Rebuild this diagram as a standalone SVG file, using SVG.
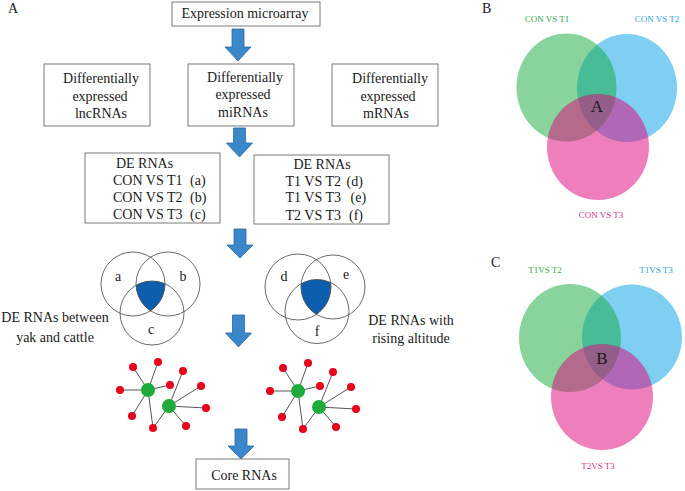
<svg xmlns="http://www.w3.org/2000/svg" xmlns:xlink="http://www.w3.org/1999/xlink" width="685" height="491" viewBox="0 0 685 491">
<style>
text{font-family:"Liberation Serif","Times New Roman",serif;fill:#1a1a1a}
.t{font-size:14px}
.c{text-anchor:middle}
.box{fill:#fff;stroke:#7a7a7a;stroke-width:1}
.arrow{fill:#3a87c9;stroke:#2a68a6;stroke-width:0.8}
.vc{fill:none;stroke:#444;stroke-width:0.8}
.edge{stroke:#555;stroke-width:1}
.red{fill:#e8001c}
.grn{fill:#1faa3c}
.lab{font-size:9px;text-anchor:middle}
.big{font-size:17px;text-anchor:middle}
</style>
<defs>
<g id="net">
<g class="edge">
<line x1="148" y1="390" x2="133" y2="367"/>
<line x1="148" y1="390" x2="158" y2="362"/>
<line x1="148" y1="390" x2="120" y2="390"/>
<line x1="148" y1="390" x2="170" y2="385"/>
<line x1="148" y1="390" x2="132" y2="416"/>
<line x1="148" y1="390" x2="153" y2="428"/>
<line x1="169" y1="406" x2="183" y2="371"/>
<line x1="169" y1="406" x2="201" y2="386"/>
<line x1="169" y1="406" x2="206" y2="408"/>
<line x1="169" y1="406" x2="186" y2="426"/>
<line x1="169" y1="406" x2="153" y2="428"/>
</g>
<g class="red">
<circle cx="133" cy="367" r="4"/><circle cx="158" cy="362" r="4"/><circle cx="183" cy="371" r="4"/>
<circle cx="170" cy="385" r="4"/><circle cx="201" cy="386" r="4"/><circle cx="120" cy="390" r="4"/>
<circle cx="206" cy="408" r="4"/><circle cx="132" cy="416" r="4"/><circle cx="153" cy="428" r="4"/>
<circle cx="186" cy="426" r="4"/>
</g>
<g class="grn"><circle cx="148" cy="390" r="7"/><circle cx="169" cy="406" r="7"/></g>
</g>
<clipPath id="ca"><circle cx="133" cy="284" r="32"/></clipPath>
<clipPath id="cb"><circle cx="168" cy="284" r="32"/></clipPath>
<clipPath id="cd"><circle cx="298" cy="287" r="33"/></clipPath>
<clipPath id="ce"><circle cx="333" cy="287" r="32"/></clipPath>
</defs>

<text x="8" y="13" class="t">A</text>
<text x="482" y="13" class="t">B</text>
<text x="491" y="267" class="t">C</text>

<g id="connectors">
<path class="arrow" d="M232 29 H244 V47 H251 L238 61 L225 47 H232 Z"/>
<path class="arrow" d="M233.5 128 H245.5 V143 H252.5 L239.5 157 L226.5 143 H233.5 Z"/>
<path class="arrow" d="M234 229 H246 V245 H253 L240 258 L227 245 H234 Z"/>
<path class="arrow" d="M232.5 315 H244.5 V333 H251.5 L238.5 347 L225.5 333 H232.5 Z"/>
<path class="arrow" d="M235 429 H247 V446 H254 L241 459 L228 446 H235 Z"/>
</g>

<g id="microarray">
<rect class="box" x="172" y="2" width="148" height="24"/>
<text x="245" y="17.5" class="t c">Expression microarray</text>
</g>
<g id="lnc">
<rect class="box" x="44" y="64" width="106" height="62"/>
<text x="101" y="83" class="t c">Differentially</text>
<text x="100" y="100.5" class="t c">expressed</text>
<text x="101" y="118" class="t c">lncRNAs</text>
</g>
<g id="mirna">
<rect class="box" x="188" y="64" width="106" height="62"/>
<text x="245" y="81.5" class="t c">Differentially</text>
<text x="243" y="99" class="t c">expressed</text>
<text x="243" y="116.5" class="t c">miRNAs</text>
</g>
<g id="mrna">
<rect class="box" x="332" y="64" width="106" height="62"/>
<text x="390" y="83" class="t c">Differentially</text>
<text x="388" y="100.5" class="t c">expressed</text>
<text x="386" y="118" class="t c">mRNAs</text>
</g>
<g id="de1">
<rect class="box" x="85" y="153" width="135" height="70"/>
<text x="144.5" y="168" class="t c">DE RNAs</text>
<text x="113" y="185" class="t">CON VS T1<tspan x="190">(a)</tspan></text>
<text x="113" y="202" class="t">CON VS T2<tspan x="190">(b)</tspan></text>
<text x="113" y="219" class="t">CON VS T3<tspan x="190">(c)</tspan></text>
</g>
<g id="de2">
<rect class="box" x="254" y="155" width="135" height="69"/>
<text x="322" y="169" class="t c">DE RNAs</text>
<text x="285.5" y="185.5" class="t">T1 VS T2<tspan x="346.5">(d)</tspan></text>
<text x="285.5" y="202" class="t">T1 VS T3<tspan x="350.5">(e)</tspan></text>
<text x="285.5" y="219.5" class="t">T2 VS T3<tspan x="349">(f)</tspan></text>
</g>

<g id="venn1">
<g clip-path="url(#ca)"><g clip-path="url(#cb)"><circle cx="152" cy="313" r="32" fill="#0d5fae"/></g></g>
<circle class="vc" cx="133" cy="284" r="32"/>
<circle class="vc" cx="168" cy="284" r="32"/>
<circle class="vc" cx="152" cy="313" r="32"/>
<text x="118" y="281" class="t c">a</text>
<text x="183" y="281" class="t c">b</text>
<text x="151" y="334" class="t c">c</text>
</g>
<g id="venn2">
<g clip-path="url(#cd)"><g clip-path="url(#ce)"><circle cx="317" cy="311.5" r="32" fill="#0d5fae"/></g></g>
<circle class="vc" cx="298" cy="287" r="33"/>
<circle class="vc" cx="333" cy="287" r="32"/>
<circle class="vc" cx="317" cy="311.5" r="32"/>
<text x="284" y="281" class="t c">d</text>
<text x="346" y="279" class="t c">e</text>
<text x="317" y="336" class="t c">f</text>
</g>
<g id="lab1">
<text x="55" y="322" class="t c">DE RNAs between</text>
<text x="55" y="342" class="t c">yak and cattle</text>
</g>
<g id="lab2">
<text x="411" y="324.5" class="t c">DE RNAs with</text>
<text x="411" y="343" class="t c">rising altitude</text>
</g>

<g id="network1"><use xlink:href="#net"/></g>
<g id="network2"><use xlink:href="#net" transform="translate(150,1)"/></g>

<g id="core">
<rect class="box" x="196" y="459" width="93" height="30"/>
<text x="244" y="480" class="t c">Core RNAs</text>
</g>

<g id="vennB">
<ellipse cx="627" cy="88" rx="50" ry="54" fill="#00a0e6" fill-opacity="0.5"/>
<ellipse cx="566.5" cy="87.5" rx="50" ry="54" fill="#11a939" fill-opacity="0.5"/>
<ellipse cx="598" cy="147" rx="51" ry="53" fill="#e0007a" fill-opacity="0.5"/>
<text x="547" y="22" class="lab" style="fill:#2fa84f">CON VS T1</text>
<text x="657" y="22" class="lab" style="fill:#27a6dc">CON VS T2</text>
<text x="601" y="218" class="lab" style="fill:#d3308a">CON VS T3</text>
<text x="597" y="112" class="big">A</text>
</g>
<g id="vennC">
<ellipse cx="632" cy="337" rx="50" ry="52.5" fill="#00a0e6" fill-opacity="0.5"/>
<ellipse cx="570" cy="338" rx="51" ry="54" fill="#11a939" fill-opacity="0.5"/>
<ellipse cx="602" cy="397" rx="51" ry="53" fill="#e0007a" fill-opacity="0.5"/>
<text x="545" y="273" class="lab" style="fill:#2fa84f">T1VS T2</text>
<text x="656" y="273" class="lab" style="fill:#27a6dc">T1VS T3</text>
<text x="598" y="469" class="lab" style="fill:#d3308a">T2VS T3</text>
<text x="602" y="364" class="big">B</text>
</g>
</svg>
